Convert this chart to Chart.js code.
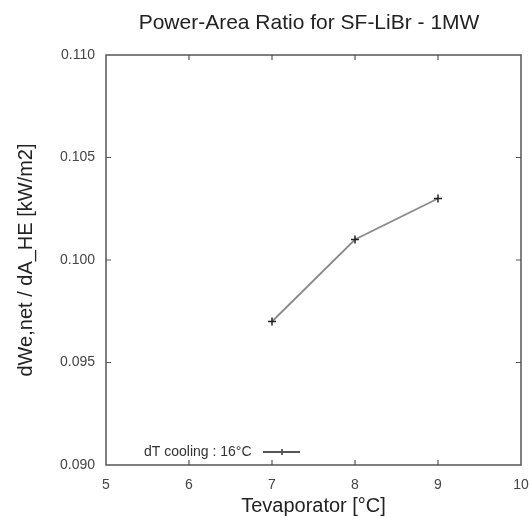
<!DOCTYPE html>
<html>
<head>
<meta charset="utf-8">
<script src="https://cdn.jsdelivr.net/npm/chart.js@4.4.0/dist/chart.umd.min.js"></script>
<style>
  html, body { margin: 0; padding: 0; background: #fff; }
  #wrap { width: 529px; height: 518px; }
</style>
</head>
<body>
<div id="wrap"><canvas id="ratioChart" width="529" height="518"></canvas></div>
<script>
// values
const tEvap = [7, 8, 9];
const powerAreaRatio = [0.097, 0.101, 0.103];
const xTickValues = [5, 6, 7, 8, 9, 10];
const yTickValues = [0.090, 0.095, 0.100, 0.105, 0.110];
const seriesLabel = 'dT cooling : 16\u00b0C';
const chartTitle = 'Power-Area Ratio for SF-LiBr - 1MW';

const FONT = 'Arial, "Liberation Sans", sans-serif';

// frame around plot + small inward ticks, like the original
const framePlugin = {
    id: 'frame',
    afterDraw(chart) {
        const ctx = chart.ctx;
        const a = chart.chartArea;
        const xs = chart.scales.x;
        const ys = chart.scales.y;
        ctx.save();
        ctx.strokeStyle = '#555';
        ctx.lineWidth = 1.5;
        ctx.strokeRect(a.left, a.top, a.right - a.left, a.bottom - a.top);
        ctx.lineWidth = 1.2;
        ctx.beginPath();
        xTickValues.slice(1, -1).forEach(v => {
            const px = xs.getPixelForValue(v);
            ctx.moveTo(px, a.bottom); ctx.lineTo(px, a.bottom - 5);
            ctx.moveTo(px, a.top); ctx.lineTo(px, a.top + 5);
        });
        yTickValues.slice(1, -1).forEach(v => {
            const py = ys.getPixelForValue(v);
            ctx.moveTo(a.left, py); ctx.lineTo(a.left + 5, py);
            ctx.moveTo(a.right, py); ctx.lineTo(a.right - 5, py);
        });
        ctx.stroke();

        // title centred over the plot
        ctx.fillStyle = '#222';
        ctx.font = '21px ' + FONT;
        ctx.textAlign = 'center';
        ctx.textBaseline = 'middle';
        ctx.fillText(chartTitle, 309, 23);

        // legend: text then line sample
        const ly = a.bottom - 13;
        ctx.font = '14px ' + FONT;
        ctx.textAlign = 'left';
        ctx.fillStyle = '#333';
        ctx.fillText(seriesLabel, a.left + 38, ly);
        ctx.strokeStyle = '#555';
        ctx.lineWidth = 1.8;
        ctx.beginPath();
        ctx.moveTo(a.left + 157, ly); ctx.lineTo(a.left + 194, ly);
        ctx.moveTo(a.left + 176, ly - 3); ctx.lineTo(a.left + 176, ly + 3);
        ctx.stroke();
        ctx.restore();
    }
};

const ctx = document.getElementById('ratioChart').getContext('2d');
const chart = new Chart(ctx, {
    type: 'scatter',
    data: {
        datasets: [{
            label: seriesLabel,
            data: tEvap.map((t, i) => ({ x: t, y: powerAreaRatio[i] })),
            showLine: true,
            borderColor: '#8a8a8a',
            borderWidth: 1.8,
            pointStyle: 'cross',
            pointRadius: 4,
            pointBorderColor: '#222',
            pointBorderWidth: 1.5,
            pointBackgroundColor: '#222'
        }]
    },
    options: {
        responsive: false,
        animation: false,
        layout: { padding: { top: 55, right: 8, left: 0, bottom: 0 } },
        plugins: {
            legend: { display: false },
            title: { display: false },
            tooltip: { enabled: false }
        },
        scales: {
            x: {
                type: 'linear',
                min: 5,
                max: 10,
                afterBuildTicks: s => { s.ticks = xTickValues.map(v => ({ value: v })); },
                afterFit: s => { s.height = 53; s.paddingRight = 0; s.paddingLeft = 0; },
                grid: { display: false, drawTicks: false },
                border: { display: false },
                ticks: { color: '#444', font: { family: FONT, size: 14 }, padding: 12 },
                title: {
                    display: true,
                    text: 'Tevaporator [\u00b0C]',
                    color: '#222',
                    font: { family: FONT, size: 20 },
                    padding: { top: 0, bottom: 0 }
                }
            },
            y: {
                min: 0.09,
                max: 0.11,
                afterBuildTicks: s => { s.ticks = yTickValues.map(v => ({ value: v })); },
                afterFit: s => { s.width = 106; s.paddingTop = 0; s.paddingBottom = 0; },
                grid: { display: false, drawTicks: false },
                border: { display: false },
                ticks: {
                    color: '#444',
                    font: { family: FONT, size: 14 },
                    padding: 11,
                    callback: v => v.toFixed(3)
                },
                title: {
                    display: true,
                    text: 'dWe,net / dA_HE [kW/m2]',
                    color: '#222',
                    font: { family: FONT, size: 20 },
                    padding: { top: 14, bottom: 0 }
                }
            }
        }
    },
    plugins: [framePlugin]
});
</script>
</body>
</html>
